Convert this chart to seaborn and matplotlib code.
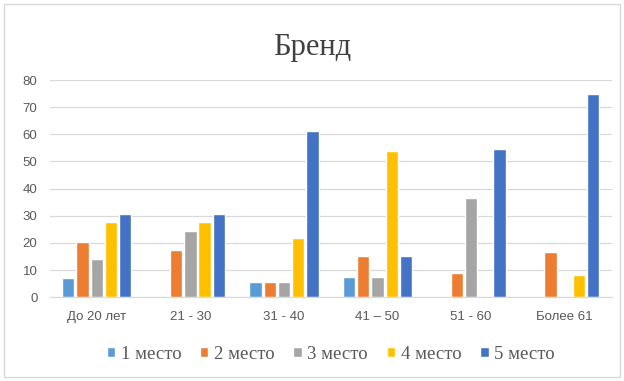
import pandas as pd
import seaborn as sns
import matplotlib.pyplot as plt
from matplotlib.patches import Rectangle

# data
groups = ["До 20 лет", "21 - 30", "31 - 40", "41 – 50", "51 - 60", "Более 61"]
places = ["1 место", "2 место", "3 место", "4 место", "5 место"]
place1 = [7, 0, 5.5, 7.6, 0, 0]
place2 = [20.4, 17.2, 5.5, 15.3, 9, 16.6]
place3 = [13.9, 24.2, 5.5, 7.6, 36.4, 0]
place4 = [27.7, 27.7, 21.9, 53.7, 0, 8.1]
place5 = [30.8, 30.8, 61.3, 15.3, 54.5, 75]
colors = ["#5B9BD5", "#ED7D31", "#A5A5A5", "#FFC000", "#4472C4"]

rows = []
for name, vals in zip(places, [place1, place2, place3, place4, place5]):
    for g, v in zip(groups, vals):
        rows.append({"group": g, "place": name, "value": v})
df = pd.DataFrame(rows)

sns.set_style("white")
plt.rcParams["font.family"] = ["Liberation Serif", "DejaVu Serif"]

fig = plt.figure(figsize=(6.24, 3.81), dpi=100)
ax = fig.add_axes([0.08, 0.22, 0.90, 0.57])

sns.barplot(data=df, x="group", y="value", hue="place", order=groups,
            hue_order=places, palette=colors, width=0.76, gap=0.13,
            saturation=1, ax=ax, legend=True)

ax.set_ylim(0, 80)
ax.set_yticks(range(0, 90, 10))
ax.yaxis.grid(True, color="#D9D9D9", linewidth=0.9)
ax.set_axisbelow(True)
for s in ["top", "right", "left"]:
    ax.spines[s].set_visible(False)
ax.spines["bottom"].set_color("#D9D9D9")
ax.set_xlabel("")
ax.set_ylabel("")
ax.tick_params(axis="y", length=0, colors="#595959", pad=9)
ax.tick_params(axis="x", length=0, colors="#595959", pad=10)
for lab in ax.get_yticklabels() + ax.get_xticklabels():
    lab.set_fontfamily("Liberation Sans")
    lab.set_fontsize(9.5)

fig.text(0.5, 0.875, "Бренд", ha="center", va="center", fontsize=22, color="#404040")

ax.legend(loc="center", bbox_to_anchor=(0.5, -0.263), ncol=5, frameon=False,
          fontsize=13.5, handlelength=0.45, handleheight=0.45, handletextpad=0.3,
          columnspacing=1.0, labelcolor="#595959")

fig.patches.append(Rectangle((0.006, 0.01), 0.988, 0.98, transform=fig.transFigure,
                             fill=False, edgecolor="#D9D9D9", linewidth=1))

fig.savefig("out.png", dpi=100)
